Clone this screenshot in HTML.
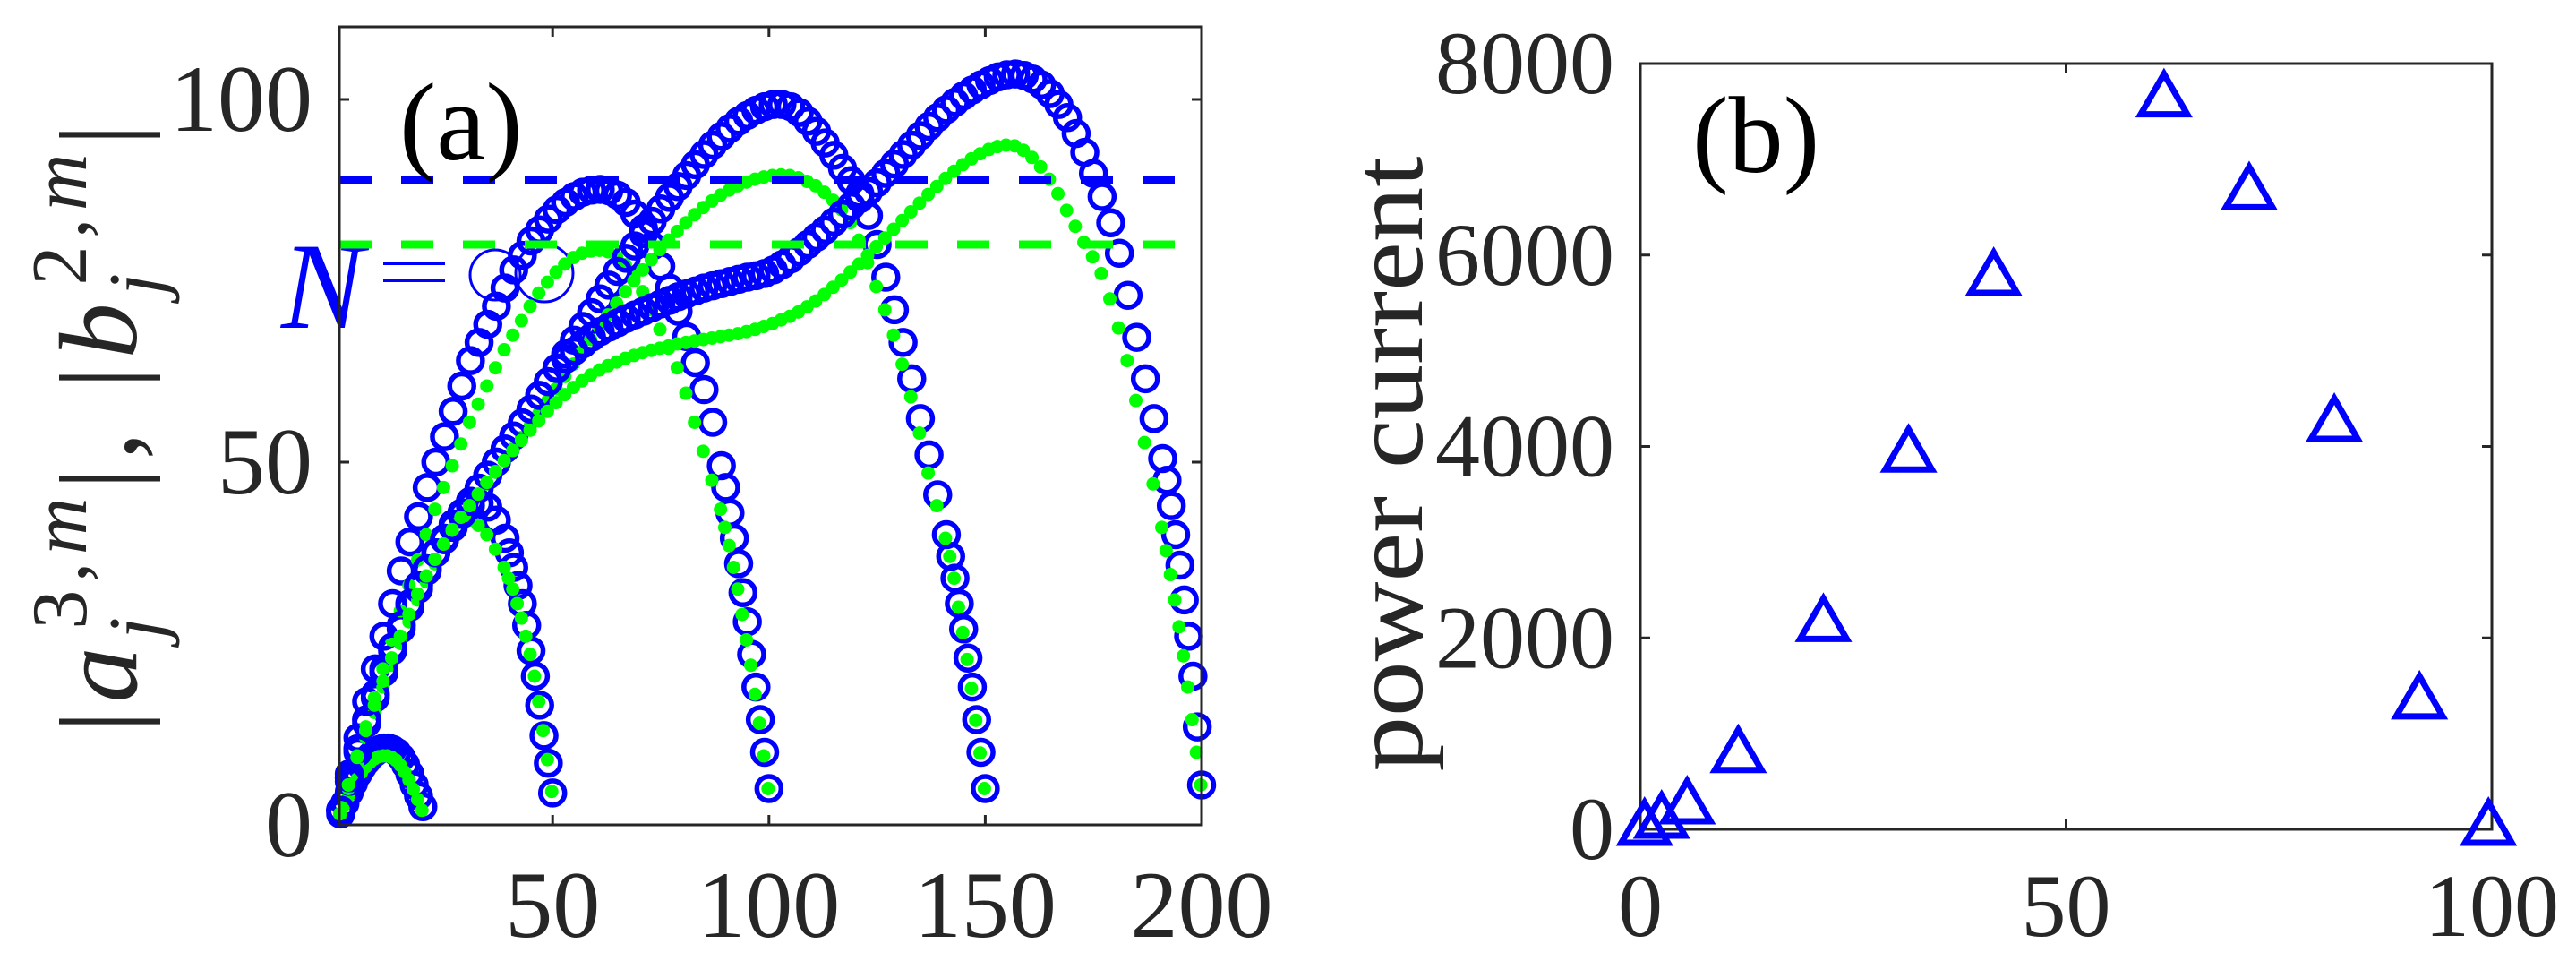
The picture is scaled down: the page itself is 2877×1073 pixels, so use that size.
<!DOCTYPE html>
<html><head><meta charset="utf-8"><style>
html,body{margin:0;padding:0;background:#fff;}
svg{display:block;}
text{font-family:"Liberation Serif","Times New Roman",serif;fill:#262626;}
</style></head><body>
<svg id="fig" width="2877" height="1073" viewBox="0 0 2877 1073" xmlns="http://www.w3.org/2000/svg" font-family="Liberation Serif, serif">
<g id="pa"></g>
<g id="pb"></g>
</svg>
<script>
// ---------- Panel (a) data ----------
const x20=[1,2,3,4,5,6,7,8,9,10,11,12,13,14,15,16,17,18,19,20];
const blue20=[1.5,3,4.5,5.8,7,8,8.8,9.5,10,10.4,10.6,10.6,10.4,10,9.3,8.3,7,5.5,4,2.5];
const green20=[1.3,2.7,4,5.2,6.3,7.2,8,8.6,9.1,9.4,9.5,9.5,9.3,8.9,8.2,7.3,6.2,4.9,3.5,2];
const x50=[1,3,5,7,9,11,13,15,17,19,21,23,25,27,29,31,33,35,37,39,40,41,42,43,44,45,46,47,48,49,50];
const blue50=[2,6,10,14,17.5,21,24,27,30,32.5,35,37.5,39.5,41.5,43,44,44.3,43.8,42,39.5,37.5,35.5,33,30.5,27.5,24,20.5,16.5,12.3,8.5,4.4];
const green50=[1.5,5,8.5,12,15.5,19,22,25,28,31,33.5,36,38.5,40.5,41.8,42,41.3,40,38,35.5,34,32.5,30.5,28.5,26,23.5,20.5,17,13,9,4.6];
const x100=[1,3,5,7,9,11,13,15,17,19,21,23,25,27,29,31,33,35,37,39,41,43,45,47,49,51,53,55,57,59,61,63,65,67,69,71,73,75,77,79,81,83,85,87,89,90,91,92,93,94,95,96,97,98,99,100];
const blue100=[2,7,12,17,21.5,26,30.5,35,39,42.5,46.5,50,53.5,57,60.5,64,66.5,69,71.5,74,76.5,78.5,80.5,82,83.5,84.8,85.8,86.6,87.2,87.5,87.6,87.4,86.8,85.8,84.2,82.2,79.8,77,74,70.8,67.3,63.7,60,55.5,49.5,46.5,43,39.5,36,32,28,23.5,19,14.5,10,5];
const green100=[1.5,5.5,9.5,13.5,17.5,21.5,25.5,29.5,33,36.5,40,43.5,46.5,49.5,52.5,55.5,58,60.5,63,65.5,67.5,69.5,71.5,73.3,74.8,76.2,77.3,78.2,78.8,79.1,79.2,79,78.3,77.2,75.6,73.5,71,68.3,65.7,63,59.5,55.5,51.5,47.5,43.5,41,38.5,35.5,32.5,29,25.5,22,18,14,9.5,5];
const x150=[1,3,5,7,9,11,13,15,17,19,21,23,25,27,29,31,33,35,37,39,41,43,45,47,49,51,53,55,57,59,61,63,65,67,69,71,73,75,77,79,81,83,85,87,89,91,93,95,97,99,101,103,105,107,109,111,113,115,117,119,121,123,125,127,129,131,133,135,137,139,141,142,143,144,145,146,147,148,149,150];
const blue150=[2,6.5,10.5,14.5,18,21.5,24.5,27.5,30.5,33,35.3,37.5,39.3,41,42.8,44.6,46.4,48.2,50,51.8,53.6,55.4,57.3,59.2,61.1,63,64.9,66.8,68.7,70.6,72.5,74.4,76.3,78.1,79.8,81.5,83.2,84.9,86.5,88,89.5,91,92.4,93.7,94.9,96,97,97.8,98.5,99,99.3,99.3,99,98.2,97,95.6,94,92.3,90.5,88.8,87,84,80,75.5,71,66.5,61.5,56,51,45.5,40,37,34,30.5,27,23,19,14.5,10,5];
const green150=[1.5,5.5,9.3,13,16.5,19.8,23,26,29,31.8,34.3,36.6,38.7,40.7,42.2,43.8,45.4,47,48.6,50.2,51.8,53.4,55,56.7,58.4,60.1,61.8,63.5,65.2,66.9,68.6,70.3,71.9,73.5,75,76.5,77.9,79.3,80.6,81.8,83,84.1,85.1,86,86.8,87.5,88.1,88.6,89,89.3,89.5,89.6,89.5,89.2,88.7,88.1,87.2,86.1,84.8,83,80.6,77.5,74.2,71,67.5,63.5,59,54,48.5,44,39.5,37,34,30,26.5,22.8,18.8,14.4,9.9,5];
const x200=[1,3,5,7,9,11,13,15,17,19,21,23,25,27,29,31,33,35,37,39,41,43,45,47,49,51,53,55,57,59,61,63,65,67,69,71,73,75,77,79,81,83,85,87,89,91,93,95,97,99,101,103,105,107,109,111,113,115,117,119,121,123,125,127,129,131,133,135,137,139,141,143,145,147,149,151,153,155,157,159,161,163,165,167,169,171,173,175,177,179,181,183,185,187,189,191,192,193,194,195,196,197,198,199,200];
const blue200=[2,6.5,10.5,14.5,18,21.5,24.5,27.5,30.5,33,35.3,37.5,39.3,41,42.8,44.6,46.4,48.2,50,51.8,53.6,55.4,57.3,59.2,61.1,62.9,64.2,65.3,66.3,67.2,68,68.6,69.2,69.8,70.3,70.8,71.3,71.8,72.3,72.8,73.2,73.6,74,74.3,74.6,74.9,75.2,75.5,75.7,76,76.5,77.2,78,79,80,81,82,83.1,84.2,85.3,86.3,87.3,88.5,89.8,91.1,92.4,93.7,95,96.3,97.5,98.6,99.6,100.5,101.3,102,102.6,103.1,103.4,103.5,103.3,102.8,102,100.8,99.3,97.5,95.3,92.7,89.8,86.6,83,78.8,73,67.2,61.5,56,50.5,47.5,44,40,35.8,31,26,20.5,13.5,5.5];
const green200=[1.5,5.5,9.3,13,16.5,19.8,23,26,29,31.8,34.3,36.6,38.7,40.7,42.4,44,45.6,47.2,48.7,50.2,51.6,53,54.4,55.7,57,58.2,59.3,60.3,61.2,62,62.7,63.3,63.8,64.3,64.7,65.1,65.4,65.7,66,66.3,66.5,66.7,66.9,67.1,67.3,67.5,67.7,68,68.3,68.7,69.1,69.6,70.1,70.7,71.4,72.2,73.1,74.1,75.1,76.2,77.3,78.5,79.7,80.9,82.1,83.3,84.5,85.7,86.9,88,89.1,90.1,91,91.8,92.5,93.1,93.5,93.7,93.6,93,92,90.7,89,87,84.7,82.5,80.3,78.3,76,72.5,68.5,64,58.5,52.7,47,41,37.8,34.5,31,27.3,23.3,19,14.5,10,5.5];
const refBlue=[88.9];
const refGreen=[80];
const aXTicks=[50,100,150,200];
const aYTicks=[0,50,100];

// ---------- Panel (b) data ----------
const bX=[0.5,2.5,5.5,11.5,21.5,31.5,41.5,61.5,71.5,81.5,91.5,99.6];
const bY=[0,75,225,760,2130,3900,5745,7610,6640,4220,1320,0];
const bXTicks=[0,50,100];
const bYTicks=[0,2000,4000,6000,8000];

const NS='http://www.w3.org/2000/svg';
function mk(tag,attrs,parent){const e=document.createElementNS(NS,tag);for(const k in attrs)e.setAttribute(k,attrs[k]);parent.appendChild(e);return e;}

// ----- axes (a)
const A={l:379,r:1342,t:30,b:921,x0:0.7,x1:200,y0:0,y1:110};
const ax=v=>A.l+(v-A.x0)/(A.x1-A.x0)*(A.r-A.l);
const ay=v=>A.b-(v-A.y0)/(A.y1-A.y0)*(A.b-A.t);
const pa=document.getElementById('pa');

// N = infinity annotation (under data)
const nlab=mk('g',{},pa);


const nt=mk('text',{x:314,y:366,'font-size':138,'font-style':'italic',style:'fill:#0000ff'},nlab);nt.textContent='N';
mk('line',{x1:428,x2:497,y1:294,y2:294,stroke:'#0000ff','stroke-width':4},nlab);
mk('line',{x1:428,x2:497,y1:313,y2:313,stroke:'#0000ff','stroke-width':4},nlab);
mk('circle',{cx:553,cy:307,r:28,fill:'none',stroke:'#0000ff','stroke-width':3},nlab);
mk('circle',{cx:608,cy:305,r:32,fill:'none',stroke:'#0000ff','stroke-width':3},nlab);

const dataG=mk('g',{},pa);


function drawPair(xs,bv,gv,name){
  const gb=mk('g',{},dataG);
  
  
  for(let i=0;i<Math.min(xs.length,bv.length);i++){
    const c=mk('circle',{cx:ax(xs[i]),cy:ay(bv[i]),r:13.5,fill:'none',stroke:'#0000ff','stroke-width':5.5},gb);
    
    
  }
  const gg=mk('g',{},dataG);
  
  
  for(let i=0;i<Math.min(xs.length,gv.length);i++){
    const c=mk('circle',{cx:ax(xs[i])-1,cy:ay(gv[i]),r:7.5,fill:'#00ff00'},gg);
    
    
  }
}
drawPair(x20,blue20,green20,'series-n20');
drawPair(x50,blue50,green50,'series-n50');
drawPair(x100,blue100,green100,'series-n100');
drawPair(x150,blue150,green150,'series-n150');
drawPair(x200,blue200,green200,'series-n200');

const lb=mk('line',{x1:A.l,x2:A.r,y1:ay(refBlue[0]),y2:ay(refBlue[0]),stroke:'#0000ff','stroke-width':9,'stroke-dasharray':'36 33'},pa);


const lg=mk('line',{x1:A.l,x2:A.r,y1:ay(refGreen[0]),y2:ay(refGreen[0]),stroke:'#00ff00','stroke-width':9,'stroke-dasharray':'36 33'},pa);



// frame a
const fa=mk('rect',{x:A.l,y:A.t,width:A.r-A.l,height:A.b-A.t,fill:'none',stroke:'#262626','stroke-width':3},pa);


aXTicks.forEach(t=>{
  const x=ax(t);
  mk('line',{x1:x,x2:x,y1:A.b,y2:A.b-11,stroke:'#262626','stroke-width':3},pa);
  mk('line',{x1:x,x2:x,y1:A.t,y2:A.t+11,stroke:'#262626','stroke-width':3},pa);
  const tx=mk('text',{x:x,y:1046,'font-size':106,'text-anchor':'middle'},pa);
  
  
  tx.textContent=t;
});
aYTicks.forEach(t=>{
  const y=ay(t);
  mk('line',{x1:A.l,x2:A.l+11,y1:y,y2:y,stroke:'#262626','stroke-width':3},pa);
  mk('line',{x1:A.r,x2:A.r-11,y1:y,y2:y,stroke:'#262626','stroke-width':3},pa);
  const tx=mk('text',{x:349,y:y+35,'font-size':106,'text-anchor':'end'},pa);
  
  
  tx.textContent=t;
});
const la=mk('text',{x:446,y:178,'font-size':124,style:'fill:#000'},pa);


la.textContent='(a)';

// y-axis title a
const yt=mk('text',{transform:'translate(152,478) rotate(-90)','font-size':124,'text-anchor':'middle',textLength:680,lengthAdjust:'spacing'},pa);


yt.innerHTML='|<tspan font-style="italic">a</tspan><tspan font-style="italic" font-size="88" dy="30">j</tspan><tspan font-size="88" dx="-22" dy="-86">3,</tspan><tspan font-style="italic" font-size="88">m</tspan><tspan dy="56">|, |</tspan><tspan font-style="italic">b</tspan><tspan font-style="italic" font-size="88" dy="30">j</tspan><tspan font-size="88" dx="-22" dy="-86">2,</tspan><tspan font-style="italic" font-size="88">m</tspan><tspan dy="56">|</tspan>';

// ----- panel b
const B={l:1832,r:2783,t:71,b:926,x0:0,x1:100,y0:0,y1:8000};
const bx=v=>B.l+(v-B.x0)/(B.x1-B.x0)*(B.r-B.l);
const by=v=>B.b-(v-B.y0)/(B.y1-B.y0)*(B.b-B.t);
const pb=document.getElementById('pb');
const fb=mk('rect',{x:B.l,y:B.t,width:B.r-B.l,height:B.b-B.t,fill:'none',stroke:'#262626','stroke-width':3},pb);


bXTicks.forEach(t=>{
  const x=bx(t);
  mk('line',{x1:x,x2:x,y1:B.b,y2:B.b-11,stroke:'#262626','stroke-width':3},pb);
  mk('line',{x1:x,x2:x,y1:B.t,y2:B.t+11,stroke:'#262626','stroke-width':3},pb);
  const tx=mk('text',{x:x,y:1045,'font-size':100,'text-anchor':'middle'},pb);
  
  
  tx.textContent=t;
});
bYTicks.forEach(t=>{
  const y=by(t);
  mk('line',{x1:B.l,x2:B.l+11,y1:y,y2:y,stroke:'#262626','stroke-width':3},pb);
  mk('line',{x1:B.r,x2:B.r-11,y1:y,y2:y,stroke:'#262626','stroke-width':3},pb);
  const tx=mk('text',{x:1803,y:y+33,'font-size':100,'text-anchor':'end'},pb);
  
  
  tx.textContent=t;
});
const lbb=mk('text',{x:1890,y:192,'font-size':122,style:'fill:#000'},pb);


lbb.textContent='(b)';
const ytb=mk('text',{transform:'translate(1588,518) rotate(-90)','font-size':112,'text-anchor':'middle',textLength:687,lengthAdjust:'spacingAndGlyphs'},pb);


ytb.textContent='power current';
const tg=mk('g',{},pb);


for(let i=0;i<Math.min(bX.length,bY.length);i++){
  const cx=bx(bX[i]),cy=by(bY[i]);
  const p=mk('path',{d:`M${cx},${cy-30} L${cx+26},${cy+15} L${cx-26},${cy+15} Z`,fill:'none',stroke:'#0000ff','stroke-width':7,'stroke-linejoin':'miter'},tg);
  
  
}
</script>
</body></html>
